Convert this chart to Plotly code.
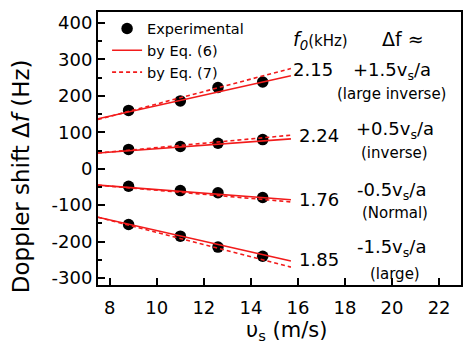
import plotly.graph_objects as go

# ---- data ----
x_exp = [8.8, 11.0, 12.6, 14.5]
exp_large_inverse = [160, 186, 223, 238]
exp_inverse = [53, 61, 70, 80]
exp_normal = [-48, -60, -66, -79]
exp_large = [-153, -185, -215, -240]

x_fit = [7.5, 15.7]
eq6_large_inverse = [137, 255]
eq7_large_inverse = [135, 275]
eq6_inverse = [43, 82]
eq7_inverse = [43, 92]
eq6_normal = [-45, -85]
eq7_normal = [-45, -91]
eq6_large = [-133, -253]
eq7_large = [-133, -270]

x_ticks = [8, 10, 12, 14, 16, 18, 20, 22]
x_ticktext = ["8", "10", "12", "14", "16", "18", "20", "22"]
y_ticks = [-300, -200, -100, 0, 100, 200, 300, 400]
y_ticktext = ["-300", "-200", "-100", "0", "100", "200", "300", "400"]

FONT = "DejaVu Sans"
RED = "#f21b1b"

fig = go.Figure()

exp_sets = [exp_large_inverse, exp_inverse, exp_normal, exp_large]
eq6_sets = [eq6_large_inverse, eq6_inverse, eq6_normal, eq6_large]
eq7_sets = [eq7_large_inverse, eq7_inverse, eq7_normal, eq7_large]

for i, ys in enumerate(exp_sets):
    fig.add_trace(go.Scatter(x=x_exp, y=ys, mode="markers", name="Experimental",
                             marker=dict(color="black", size=11.5),
                             showlegend=(i == 0), legendrank=1))
for i, ys in enumerate(eq6_sets):
    fig.add_trace(go.Scatter(x=x_fit, y=ys, mode="lines", name="by Eq. (6)",
                             line=dict(color=RED, width=1.6),
                             showlegend=(i == 0), legendrank=2))
for i, ys in enumerate(eq7_sets):
    fig.add_trace(go.Scatter(x=x_fit, y=ys, mode="lines", name="by Eq. (7)",
                             line=dict(color=RED, width=1.6, dash="4px,3px"),
                             showlegend=(i == 0), legendrank=3))

def ann(text, x, y, size=18, xanchor="left", yanchor="middle", angle=0):
    fig.add_annotation(text=text, x=x, y=y, xref="paper", yref="paper",
                       showarrow=False, xanchor=xanchor, yanchor=yanchor,
                       textangle=angle, font=dict(family=FONT, size=size, color="black"))

ann("<i>f</i><sub><i>0</i></sub><span style='font-size:15px'>(kHz)</span>", 0.5315, 0.894, size=19)
ann("Δf ≈", 0.778, 0.901, size=19)
ann("2.15", 0.5315, 0.791)
ann("2.24", 0.548, 0.546)
ann("1.76", 0.548, 0.315)
ann("1.85", 0.548, 0.095)
ann("+1.5v<sub>s</sub>/a", 0.696, 0.785)
ann("(large inverse)", 0.808, 0.700, size=15, xanchor="center")
ann("+0.5v<sub>s</sub>/a", 0.704, 0.568)
ann("(inverse)", 0.816, 0.482, size=15, xanchor="center")
ann("-0.5v<sub>s</sub>/a", 0.707, 0.345)
ann("(Normal)", 0.819, 0.262, size=15, xanchor="center")
ann("-1.5v<sub>s</sub>/a", 0.707, 0.135)
ann("(large)", 0.819, 0.040, size=15, xanchor="center")

# axis titles
ann("Doppler shift Δ<i>f</i> (Hz)", -0.2137, 0.40, size=23, xanchor="center", angle=-90)
ann("υ<sub>s</sub> (m/s)", 0.52, -0.168, size=21, xanchor="center")

axis_common = dict(showline=True, linecolor="black", linewidth=2, mirror=True,
                   showgrid=False, zeroline=False, ticks="inside", tickcolor="black",
                   tickwidth=1.5, ticklen=7,
                   tickfont=dict(family=FONT, size=18, color="black"))

fig.update_xaxes(range=[7.5, 22.93], tickvals=x_ticks, ticktext=x_ticktext,
                 ticklabelstandoff=5, **axis_common)
fig.update_yaxes(range=[-319, 430], tickvals=y_ticks, ticktext=y_ticktext,
                 minor=dict(ticks="inside", ticklen=4, tickwidth=1.5, tickcolor="black", dtick=50, tick0=0),
                 **axis_common)

fig.update_layout(
    width=463, height=348,
    margin=dict(l=98, r=0, t=12, b=63),
    plot_bgcolor="white", paper_bgcolor="white",
    font=dict(family=FONT, color="black"),
    legend=dict(x=0.025, y=0.998, xanchor="left", yanchor="top",
                bgcolor="rgba(0,0,0,0)", borderwidth=0,
                font=dict(family=FONT, size=14.5, color="black"),
                tracegroupgap=0, itemwidth=30),
)

fig.write_html("out.html", config={"displayModeBar": False},
               post_script="document.body.style.margin='0';document.body.style.padding='0';document.body.style.overflow='hidden';")
